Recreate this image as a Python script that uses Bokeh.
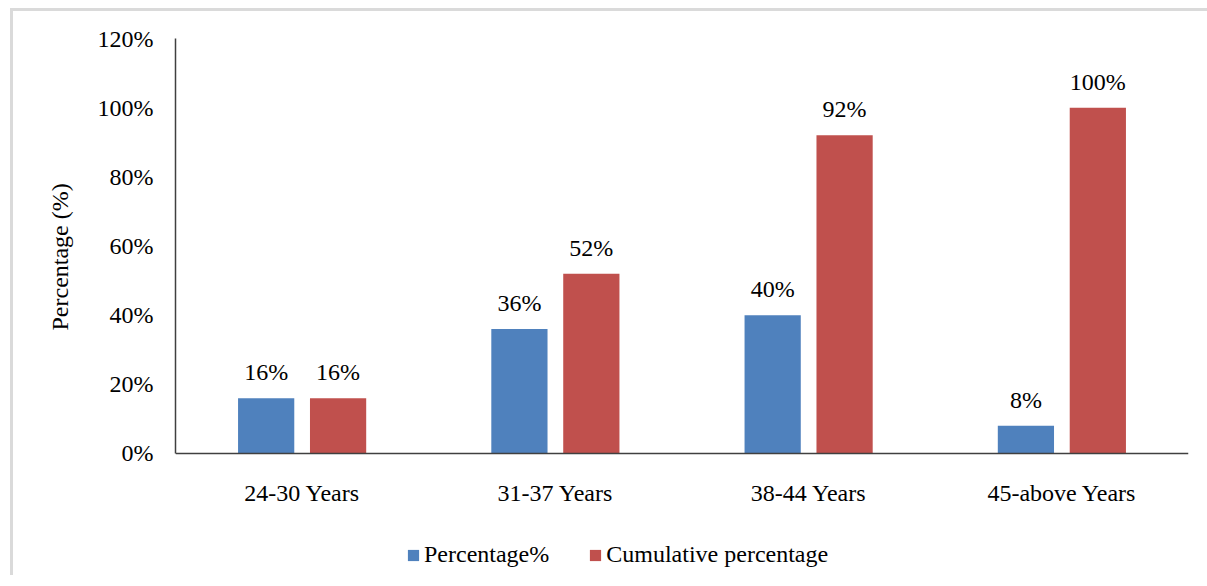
from bokeh.plotting import figure
from bokeh.models import (ColumnDataSource, FactorRange, Range1d, FixedTicker,
                          PrintfTickFormatter, LabelSet, Legend, LegendItem, Title)
from bokeh.transform import dodge
from bokeh.embed import file_html
from bokeh.resources import INLINE

categories = ["24-30 Years", "31-37 Years", "38-44 Years", "45-above Years"]
percentage = [16, 36, 40, 8]
cumulative = [16, 52, 92, 100]
y_ticks = [0, 20, 40, 60, 80, 100, 120]
y_title = "Percentage (%)"

FONT = "Liberation Serif"
FS = "24px"
BLUE = "#4F81BD"
RED = "#C0504D"

src = ColumnDataSource(dict(
    cat=categories,
    pct=percentage,
    cum=cumulative,
    pct_lbl=[f"{v}%" for v in percentage],
    cum_lbl=[f"{v}%" for v in cumulative],
))

# frame spans from the 120% line down to the bottom of the page so the legend
# below the axis stays inside the drawable area
p = figure(x_range=FactorRange(factors=categories, range_padding=0),
           y_range=Range1d(-35.28, 120),
           frame_width=1013, frame_height=537,
           min_border_left=162, min_border_right=19,
           min_border_top=27, min_border_bottom=0,
           output_backend="svg", toolbar_location=None,
           background_fill_color="white", border_fill_color="white")
p.margin = (8, 0, 0, 10)
p.styles = {"border-left": "3px solid #dadada", "border-top": "3px solid #dadada"}
p.outline_line_color = None
p.xgrid.grid_line_color = None
p.ygrid.grid_line_color = None

off = 0.142
w = 0.222
r1 = p.vbar(x=dodge("cat", -off, range=p.x_range), top="pct", width=w, bottom=0,
            source=src, fill_color=BLUE, line_color=None)
r2 = p.vbar(x=dodge("cat", off, range=p.x_range), top="cum", width=w, bottom=0,
            source=src, fill_color=RED, line_color=None)

for col, lbl, o in (("pct", "pct_lbl", -off), ("cum", "cum_lbl", off)):
    ls = LabelSet(x=dodge("cat", o, range=p.x_range), y=col, text=lbl, source=src,
                  y_offset=13, text_align="center", text_baseline="bottom",
                  text_font=FONT, text_font_size=FS, text_color="black")
    p.add_layout(ls)

for ax in (p.xaxis[0], p.yaxis[0]):
    ax.axis_line_color = "#404040"
    ax.axis_line_width = 1.5
    ax.major_tick_line_color = None
    ax.minor_tick_line_color = None
    ax.major_label_text_font = FONT
    ax.major_label_text_font_size = FS
    ax.major_label_text_color = "black"

p.xaxis.fixed_location = 0
p.xaxis.major_label_standoff = 21

p.yaxis.bounds = (0, 120)
p.yaxis.ticker = FixedTicker(ticks=y_ticks)
p.yaxis.formatter = PrintfTickFormatter(format="%d%%")
p.yaxis.major_label_standoff = 16

ytitle = Title(text=y_title, align="left", offset=245, vertical_align="middle",
               standoff=41, text_font=FONT, text_font_size=FS,
               text_font_style="normal", text_color="black")
p.add_layout(ytitle, "left")

legend = Legend(items=[LegendItem(label="Percentage%", renderers=[r1]),
                       LegendItem(label="Cumulative percentage", renderers=[r2])],
                orientation="horizontal", location=(231, 7),
                glyph_width=14, glyph_height=14, label_standoff=4, spacing=39,
                label_text_font=FONT, label_text_font_size=FS, label_text_color="black",
                border_line_color=None, background_fill_alpha=0, padding=0, margin=0)
p.add_layout(legend, "center")

open("out.html", "w").write(file_html(p, INLINE))
